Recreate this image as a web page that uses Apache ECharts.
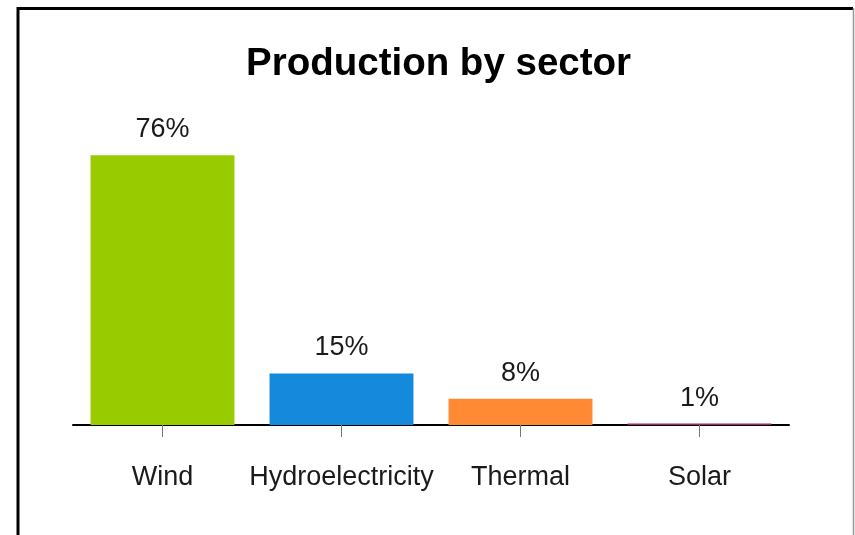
<!DOCTYPE html>
<html>
<head>
<meta charset="utf-8">
<script src="https://cdn.jsdelivr.net/npm/echarts@6/dist/echarts.min.js"></script>
<style>
html,body{margin:0;padding:0;background:#fff;}
#chart{width:855px;height:535px;}
</style>
</head>
<body>
<div id="chart"></div>
<script>
const categories = ['Wind', 'Hydroelectricity', 'Thermal', 'Solar'];
const shares = [76, 14.5, 7.4, 0.4];
const labelsText = ['76%', '15%', '8%', '1%'];
const barColors = ['#99cc00', '#1589dc', '#ff8a33', '#a3236e'];

const chart = echarts.init(document.getElementById('chart'), null, {renderer: 'canvas'});
const font = '"Liberation Sans", Arial, sans-serif';
chart.setOption({
  animation: false,
  backgroundColor: '#ffffff',
  title: {
    text: 'Production by sector',
    left: 241,
    top: 40,
    textStyle: {fontFamily: font, fontSize: 38.5, fontWeight: 'bold', color: '#000'}
  },
  grid: {left: 73, right: 66, top: 141, bottom: 110},
  xAxis: {
    type: 'category',
    data: categories,
    axisLine: {show: true, lineStyle: {color: '#000', width: 2}},
    axisTick: {show: true, alignWithLabel: true, interval: 0, length: 12, lineStyle: {color: '#777', width: 1}},
    axisLabel: {interval: 0, fontFamily: font, fontSize: 27, color: '#1a1a1a', margin: 39}
  },
  yAxis: {
    type: 'value', min: 0, max: 80, show: false,
    splitLine: {show: false}
  },
  graphic: [
    {type: 'polyline', shape: {points: [[18, 540], [18, 8.5], [853, 8.5]]}, style: {stroke: '#000', lineWidth: 3, fill: null}, z: 100},
    {type: 'line', shape: {x1: 853.5, y1: 8, x2: 853.5, y2: 540}, style: {stroke: '#999', lineWidth: 1.5}, z: 100}
  ],
  series: [{
    type: 'bar',
    data: shares.map((v, i) => ({value: v, itemStyle: {color: barColors[i]}})),
    barCategoryGap: '19.6%',
    label: {
      show: true, position: 'top', distance: 12,
      fontFamily: font, fontSize: 27, color: '#1a1a1a',
      formatter: p => labelsText[p.dataIndex]
    }
  }]
});
</script>
</body>
</html>
